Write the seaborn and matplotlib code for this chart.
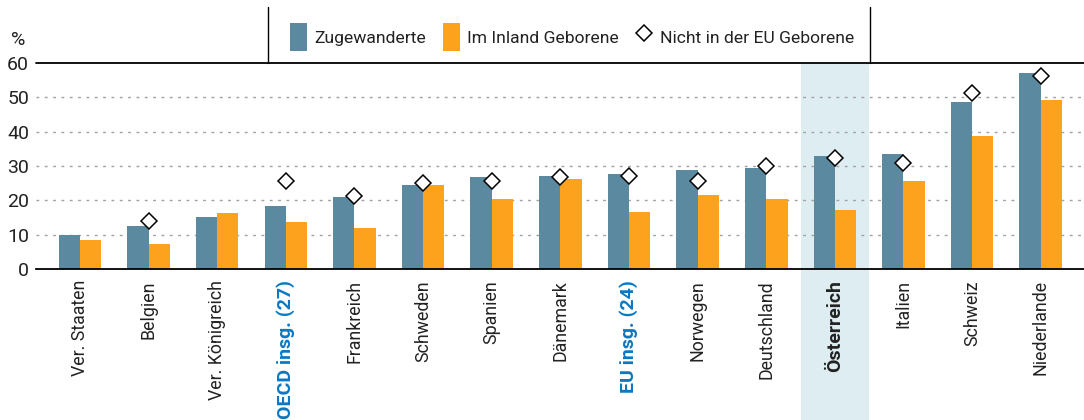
import pandas as pd
import matplotlib.pyplot as plt
import seaborn as sns
from matplotlib.patches import Patch, Rectangle
from matplotlib.lines import Line2D
import matplotlib.transforms as mtransforms

# Data
countries = ['Ver. Staaten', 'Belgien', 'Ver. Königreich', 'OECD insg. (27)', 'Frankreich',
             'Schweden', 'Spanien', 'Dänemark', 'EU insg. (24)', 'Norwegen', 'Deutschland',
             'Österreich', 'Italien', 'Schweiz', 'Niederlande']
zugewanderte = [9.9, 12.5, 15.2, 18.4, 21.0, 24.5, 26.8, 27.1, 27.7, 28.9, 29.5, 33.0, 33.6, 48.7, 57.2]
inland = [8.5, 7.3, 16.3, 13.7, 12.0, 24.5, 20.4, 26.3, 16.6, 21.6, 20.4, 17.2, 25.7, 38.8, 49.3]
nicht_eu = [None, 14.0, None, 25.5, 21.3, 25.1, 25.6, 26.7, 27.1, 25.5, 29.9, 32.3, 30.8, 51.3, 56.3]

blue = '#5b8aa0'
orange = '#fda21d'
label_blue = '#0a78c2'

sns.set_theme(style='white')
plt.rcParams['font.family'] = ['Roboto', 'DejaVu Sans']

df = pd.DataFrame({
    'Land': countries * 2,
    'Wert': zugewanderte + inland,
    'Gruppe': ['Zugewanderte'] * len(countries) + ['Im Inland Geborene'] * len(countries),
})

fig = plt.figure(figsize=(10.84, 4.2), dpi=100)
ax = fig.add_axes([0.0332, 0.3595, 0.9668, 0.4905])

# highlight for Austria, reaching down through the tick labels
idx = countries.index('Österreich')
trans = mtransforms.blended_transform_factory(ax.transData, ax.transAxes)
ax.add_patch(Rectangle((idx - 0.5, -1.0), 1.0, 2.0, transform=trans,
                       color='#deedf1', zorder=0, clip_on=False, lw=0))

sns.barplot(data=df, x='Land', y='Wert', hue='Gruppe', order=countries,
            palette=[blue, orange], width=0.62, saturation=1, ax=ax,
            legend=False, linewidth=0, zorder=2)

pts = pd.DataFrame({'Land': countries, 'Wert': nicht_eu}).dropna()
ax.plot([countries.index(c) for c in pts['Land']], pts['Wert'], linestyle='none',
        marker='D', markersize=8, markerfacecolor='white', markeredgecolor='black',
        markeredgewidth=1.1, zorder=4)

ax.set_ylim(0, 60)
ax.set_xlim(-0.64, 14.63)
ax.set_yticks(range(0, 61, 10))
for y in range(10, 60, 10):
    ax.axhline(y, color='#a0a0a0', lw=1, ls=(0, (2, 4)), zorder=1)
ax.axhline(60, color='black', lw=1.3, zorder=3, clip_on=False)

for s in ['left', 'right', 'top']:
    ax.spines[s].set_visible(False)
ax.spines['bottom'].set_color('black')
ax.spines['bottom'].set_linewidth(1.3)
ax.spines['bottom'].set_zorder(3)

ax.set_xlabel('')
ax.set_ylabel('')
ax.tick_params(axis='y', labelsize=14, length=0, pad=5, colors='#222222')
ax.tick_params(axis='x', labelsize=12.8, length=0, pad=8, rotation=90)
for lbl in ax.get_xticklabels():
    lbl.set_color('#222222')
    lbl.set_verticalalignment('top')
    t = lbl.get_text()
    if 'insg.' in t:
        lbl.set_color(label_blue)
        lbl.set_fontweight('bold')
        lbl.set_fontsize(14)
    if t == 'Österreich':
        lbl.set_fontweight('bold')
        lbl.set_fontsize(14)

fig.text(0.010, 0.905, '%', fontsize=14, color='#222222', va='center')

# legend box lines
fig.add_artist(Line2D([268 / 1084, 268 / 1084], [1 - 7 / 420, 1 - 63 / 420], color='black', lw=1))
fig.add_artist(Line2D([870 / 1084, 870 / 1084], [1 - 7 / 420, 1 - 63 / 420], color='black', lw=1))

handles = [
    Patch(facecolor=blue, edgecolor='none', label='Zugewanderte'),
    Patch(facecolor=orange, edgecolor='none', label='Im Inland Geborene'),
    Line2D([], [], linestyle='none', marker='D', markersize=8, markerfacecolor='white',
           markeredgecolor='black', markeredgewidth=1.1, label='Nicht in der EU Geborene'),
]
leg = fig.legend(handles=handles, loc='center', bbox_to_anchor=(572 / 1084, 1 - 37 / 420),
                 ncol=3, frameon=False, fontsize=12.6, handlelength=0.95, handleheight=2.1,
                 handletextpad=0.4, columnspacing=1.0)
for t in leg.get_texts():
    t.set_color('#222222')

fig.savefig('out.png', dpi=100)
